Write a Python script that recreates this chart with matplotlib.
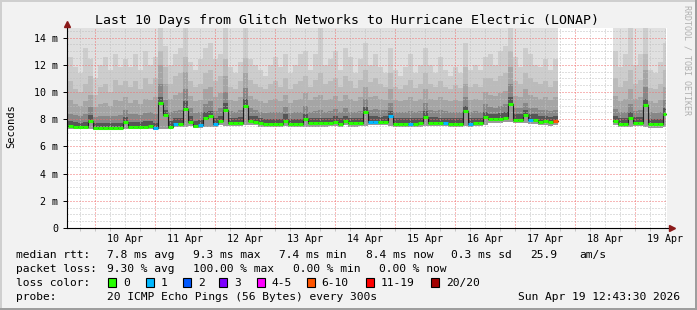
import numpy as np
import matplotlib
matplotlib.use('Agg')
import matplotlib.pyplot as plt
from matplotlib.patches import Rectangle

plt.rcParams['font.family'] = 'DejaVu Sans Mono'

nan = np.nan

# time in hours from Apr 10 00:00, 2 hour blocks starting at Apr 9 13:00
block_start = -11
block_len = 2
data_end = 228.3
x_range = (-11.2, 228.8)

day_labels = ['10 Apr', '11 Apr', '12 Apr', '13 Apr', '14 Apr',
              '15 Apr', '16 Apr', '17 Apr', '18 Apr', '19 Apr']

# median rtt per block (ms)
median = [7.52, 7.45, 7.43, 7.44, 7.85, 7.34, 7.34, 7.34, 7.34, 7.34, 7.34, 7.80,
          7.46, 7.46, 7.46, 7.46, 7.50, 7.36, 9.22, 8.27, 7.40, 7.68, 7.68, 8.76,
          7.80, 7.49, 7.55, 8.10, 8.20, 7.66, 7.85, 8.68, 7.73, 7.73, 7.73, 8.98,
          7.88, 7.82, 7.70, 7.66, 7.66, 7.66, 7.66, 7.90, 7.66, 7.66, 7.66, 8.00,
          7.70, 7.70, 7.70, 7.70, 7.75, 7.80, 7.68, 7.85, 7.70, 7.70, 7.72, 8.49,
          7.80, 7.80, 7.80, 7.80, 8.22, 7.68, 7.68, 7.68, 7.68, 7.68, 7.70, 8.17,
          7.75, 7.75, 7.75, 7.72, 7.68, 7.68, 7.68, 8.59, 7.66, 7.71, 7.71, 8.15,
          8.02, 8.02, 8.02, 8.10, 9.08, 7.95, 7.95, 8.27, 7.95, 7.95, 7.80, 7.85,
          7.76, 7.85] + [nan] * 10 + [
          nan, 7.85, 7.66, 7.66, 8.10, 7.75, 7.75, 9.03, 7.63, 7.63, 7.63, 8.39]

# smoke: lowest ping and upper ping ranks per block (ms)
ping_lo = [7.30, 7.28, 7.25, 7.27, 7.30, 7.20, 7.20, 7.20, 7.20, 7.20, 7.20, 7.25,
           7.28, 7.28, 7.28, 7.28, 7.30, 7.22, 7.30, 7.30, 7.25, 7.45, 7.45, 7.45,
           7.50, 7.32, 7.35, 7.45, 7.45, 7.45, 7.55, 7.50, 7.50, 7.50, 7.50, 7.55,
           7.60, 7.55, 7.45, 7.42, 7.42, 7.42, 7.42, 7.50, 7.42, 7.42, 7.42, 7.45,
           7.45, 7.45, 7.45, 7.45, 7.50, 7.50, 7.45, 7.55, 7.45, 7.45, 7.48, 7.50,
           7.55, 7.55, 7.55, 7.55, 7.50, 7.45, 7.45, 7.45, 7.45, 7.45, 7.45, 7.48,
           7.50, 7.50, 7.50, 7.48, 7.45, 7.45, 7.45, 7.48, 7.42, 7.48, 7.48, 7.55,
           7.75, 7.75, 7.75, 7.80, 7.80, 7.70, 7.70, 7.70, 7.68, 7.68, 7.55, 7.60,
           7.50, 7.60] + [nan] * 10 + [
           nan, 7.55, 7.40, 7.40, 7.45, 7.50, 7.50, 7.45, 7.38, 7.38, 7.38, 7.40]

ping_13 = [7.85, 7.80, 7.75, 7.80, 8.30, 7.70, 7.70, 7.75, 7.72, 7.70, 7.72, 8.15,
           7.80, 7.82, 7.80, 7.85, 7.90, 7.75, 9.60, 8.70, 7.85, 8.05, 8.05, 9.30,
           8.20, 7.85, 7.95, 8.50, 8.60, 8.05, 8.25, 9.20, 8.10, 8.10, 8.15, 9.50,
           8.25, 8.20, 8.05, 8.00, 8.00, 8.02, 8.00, 8.35, 8.00, 8.00, 8.02, 8.40,
           8.05, 8.05, 8.08, 8.05, 8.10, 8.20, 8.05, 8.25, 8.05, 8.05, 8.10, 8.90,
           8.20, 8.20, 8.18, 8.20, 8.60, 8.05, 8.05, 8.05, 8.05, 8.05, 8.10, 8.60,
           8.15, 8.15, 8.12, 8.10, 8.05, 8.05, 8.05, 9.00, 8.05, 8.10, 8.10, 8.55,
           8.40, 8.40, 8.42, 8.50, 9.60, 8.35, 8.35, 8.70, 8.35, 8.35, 8.20, 8.25,
           8.15, 8.25] + [nan] * 10 + [
           nan, 8.25, 8.05, 8.05, 8.50, 8.15, 8.15, 9.50, 8.00, 8.00, 8.00, 8.80]

ping_15 = [8.40, 8.30, 8.20, 8.35, 8.90, 8.15, 8.20, 8.25, 8.20, 8.25, 8.30, 8.70,
           8.35, 8.40, 8.30, 8.45, 8.50, 8.40, 10.60, 9.40, 8.50, 8.60, 8.70, 10.20,
           8.80, 8.45, 8.50, 9.10, 9.30, 8.60, 8.80, 10.00, 8.60, 8.55, 8.70, 10.30,
           8.80, 8.70, 8.50, 8.45, 8.50, 8.55, 8.50, 8.90, 8.45, 8.50, 8.55, 8.95,
           8.55, 8.60, 8.65, 8.55, 8.60, 8.75, 8.50, 8.80, 8.55, 8.50, 8.60, 9.50,
           8.70, 8.75, 8.70, 8.65, 9.20, 8.55, 8.50, 8.55, 8.60, 8.55, 8.60, 9.20,
           8.65, 8.60, 8.65, 8.60, 8.50, 8.55, 8.50, 9.60, 8.55, 8.60, 8.55, 9.10,
           8.90, 8.85, 8.95, 9.10, 10.60, 8.85, 8.80, 9.20, 8.85, 8.80, 8.65, 8.70,
           8.60, 8.70] + [nan] * 10 + [
           nan, 8.75, 8.50, 8.55, 9.10, 8.60, 8.65, 10.40, 8.50, 8.45, 8.50, 9.40]

ping_17 = [9.40, 9.10, 9.00, 9.30, 9.80, 8.90, 9.10, 9.20, 9.00, 9.40, 9.30, 9.60,
           9.20, 9.40, 9.10, 9.50, 9.40, 9.60, 12.00, 10.60, 9.50, 9.80, 9.90, 11.50,
           9.70, 9.30, 9.40, 10.20, 10.40, 9.60, 9.90, 11.20, 9.40, 9.30, 9.60, 11.40,
           9.70, 9.50, 9.30, 9.20, 9.40, 9.50, 9.30, 9.80, 9.20, 9.40, 9.50, 9.90,
           9.40, 9.60, 9.80, 9.40, 9.50, 9.70, 9.30, 9.80, 9.50, 9.30, 9.60, 10.40,
           9.60, 9.70, 9.50, 9.40, 10.20, 9.40, 9.30, 9.40, 9.60, 9.30, 9.50, 10.20,
           9.50, 9.40, 9.60, 9.40, 9.30, 9.40, 9.30, 10.60, 9.40, 9.50, 9.40, 10.00,
           9.80, 9.70, 9.90, 10.10, 11.80, 9.70, 9.60, 10.20, 9.80, 9.60, 9.50, 9.60,
           9.40, 9.60] + [nan] * 10 + [
           nan, 9.70, 9.30, 9.50, 10.20, 9.50, 9.60, 11.60, 9.30, 9.20, 9.40, 10.40]

ping_18 = [10.8, 10.2, 10.0, 10.6, 11.2, 9.8, 10.4, 10.6, 10.0, 10.9, 10.5, 10.8,
           10.4, 10.8, 10.2, 11.0, 10.6, 11.0, 13.0, 11.8, 10.6, 11.2, 11.4, 12.6,
           10.8, 10.4, 10.6, 11.4, 11.6, 10.8, 11.2, 12.4, 10.4, 10.2, 10.8, 12.5,
           10.9, 10.6, 10.4, 10.2, 10.6, 10.8, 10.4, 11.0, 10.2, 10.6, 10.8, 11.2,
           10.4, 10.9, 11.4, 10.6, 10.8, 11.0, 10.4, 11.2, 10.8, 10.3, 10.9, 11.6,
           10.7, 11.0, 10.6, 10.4, 11.4, 10.4, 10.2, 10.5, 10.9, 10.3, 10.6, 11.4,
           10.6, 10.4, 10.8, 10.4, 10.2, 10.5, 10.3, 11.8, 10.4, 10.6, 10.4, 11.0,
           11.0, 10.8, 11.2, 11.4, 13.0, 10.8, 10.6, 11.4, 11.0, 10.7, 10.6, 10.8,
           10.4, 10.8] + [nan] * 10 + [
           nan, 11.0, 10.4, 10.8, 11.6, 10.6, 10.9, 12.8, 10.3, 10.2, 10.6, 11.6]

ping_19 = [12.6, 11.8, 11.4, 13.2, 12.4, 11.0, 12.0, 12.6, 11.6, 12.8, 11.8, 12.4,
           11.8, 12.8, 11.6, 13.0, 12.0, 12.6, 14.7, 13.4, 12.0, 12.8, 13.2, 14.7,
           12.2, 11.6, 12.4, 13.2, 13.6, 12.4, 12.8, 14.7, 11.8, 11.4, 12.2, 14.7,
           12.4, 12.0, 11.6, 11.2, 12.0, 12.6, 11.8, 12.8, 11.4, 12.0, 12.8, 13.0,
           11.6, 12.8, 14.7, 12.0, 12.4, 13.0, 11.6, 13.2, 12.6, 11.4, 12.4, 13.6,
           12.0, 12.8, 11.8, 11.4, 13.2, 11.6, 11.2, 11.8, 12.8, 11.4, 12.0, 13.2,
           12.0, 11.4, 12.6, 11.6, 11.2, 11.8, 11.4, 13.6, 11.6, 12.0, 11.6, 12.6,
           12.8, 12.0, 13.0, 13.4, 14.7, 12.6, 11.8, 13.2, 12.8, 12.0, 11.8, 12.4,
           11.6, 12.4] + [nan] * 10 + [
           nan, 13.0, 11.8, 12.8, 14.7, 12.0, 12.8, 14.7, 11.6, 11.4, 12.2, 13.6]

# blocks where the median had loss (index into blocks, loss class)
loss_block = [17, 21, 26, 29, 60, 61, 64, 68, 75, 80, 92, 97]
loss_class = [1, 1, 1, 1, 1, 1, 1, 1, 1, 1, 1, 5]

loss_labels = ['0', '1', '2', '3', '4-5', '6-10', '11-19', '20/20']
loss_colors = ['#26ff00', '#00b8ff', '#0059ff', '#7e00ff',
               '#ff00ff', '#ff5500', '#ff0000', '#a10000']

title = 'Last 10 Days from Glitch Networks to Hurricane Electric (LONAP)'
rtt_line = [('median rtt:', 16), ('7.8 ms avg', 107.3), ('9.3 ms max', 193.3),
            ('7.4 ms min', 279.3), ('8.4 ms now', 365.7), ('0.3 ms sd', 451),
            ('25.9', 530), ('am/s', 579.3)]
loss_line = [('packet loss:', 16), ('9.30 % avg', 107.3), ('100.00 % max', 193.3),
             ('0.00 % min', 292.7), ('0.00 % now', 379.3)]
probe_text = '20 ICMP Echo Pings (56 Bytes) every 300s'
stamp = 'Sun Apr 19 12:43:30 2026'

# ---------------------------------------------------------------
n = len(median)
edges = np.append(block_start + block_len * np.arange(n), data_end)
left = edges[:-1]
widths = np.diff(edges)
median = np.array(median)
lo = np.array(ping_lo)

fig = plt.figure(figsize=(6.97, 3.10), dpi=100)
fig.patch.set_facecolor('#f2f2f2')
W, H = 697, 310
ax = fig.add_axes([67 / W, (H - 228) / H, 600 / W, 200 / H])
ax.set_facecolor('white')
ax.set_xlim(*x_range)
ax.set_ylim(0, 14.7)

# smoke, outer bands first
ytop = 16.0
bands = [(np.full(n, ytop), '#e0e0e0'), (ping_19, '#cdcdcd'), (ping_18, '#bbbbbb'),
         (ping_17, '#a5a5a5'), (ping_15, '#878787'), (ping_13, '#555555'),
         (median, '#9a9a9a')]
for upper, col in bands:
    upper = np.array(upper)
    ax.bar(left, upper - lo, bottom=lo, width=widths, align='edge',
           color=col, linewidth=0, antialiased=False, zorder=1)

# grid (dotted, drawn over the smoke)
days = 24 * np.arange(10)
sixh = [h for h in np.arange(-6, 229, 6) if h % 24 != 0]
halfms = [v for v in np.arange(0.5, 14.7, 0.5) if v % 2 != 0]
grid_ls = (0, (1, 2))
for h in sixh:
    ax.axvline(h, color='#c0c0c0', ls=grid_ls, lw=0.72, zorder=2)
for v in halfms:
    ax.axhline(v, color='#c0c0c0', ls=grid_ls, lw=0.72, zorder=2)
for h in days:
    ax.axvline(h, color='#f07070', ls=grid_ls, lw=0.72, zorder=2)
for v in range(2, 15, 2):
    ax.axhline(v, color='#f07070', ls=grid_ls, lw=0.72, zorder=2)

# median line: dark connector + loss coloured segments
ax.step(edges, np.append(median, median[-1]), where='post', color='#202020',
        lw=0.8, zorder=4)
seg_colors = [loss_colors[0]] * n
for b, c in zip(loss_block, loss_class):
    seg_colors[b] = loss_colors[c]
ax.hlines(median, edges[:-1], edges[1:], colors=seg_colors, lw=2.2, zorder=5)

# axes
for s in ax.spines.values():
    s.set_visible(False)
ax.plot([0, 0], [0, 1.02], transform=ax.transAxes, color='black', lw=0.8,
        clip_on=False, zorder=6)
ax.plot([0, 1.006], [0, 0], transform=ax.transAxes, color='black', lw=0.8,
        clip_on=False, zorder=6)
ax.plot([0], [1.02], marker='^', ms=4, color='#8b1a1a', transform=ax.transAxes,
        clip_on=False, zorder=7)
ax.plot([1.008], [0], marker='>', ms=4, color='#8b1a1a', transform=ax.transAxes,
        clip_on=False, zorder=7)

ax.set_yticks(np.arange(0, 15, 2))
ax.set_yticklabels(['0'] + ['%d m' % v for v in range(2, 15, 2)])
ax.tick_params(axis='y', length=3, width=0.7, pad=3.5, labelsize=7.2)
ax.set_xticks(12 + 24 * np.arange(10))
ax.set_xticklabels(day_labels)
ax.tick_params(axis='x', which='major', length=0, pad=4, labelsize=7.2)
ax.set_xticks(np.arange(-6, 229, 6), minor=True)
ax.tick_params(axis='x', which='minor', length=2, width=0.7, color='#c4c4c4')
for tk, pos in zip(ax.xaxis.get_minor_ticks(), np.arange(-6, 229, 6)):
    if pos % 24 == 0:
        tk.tick1line.set_color('#f08080')

# overlay in pixel coordinates for text and frame
ov = fig.add_axes([0, 0, 1, 1])
ov.set_xlim(0, W)
ov.set_ylim(H, 0)
ov.axis('off')
ov.add_patch(Rectangle((0, 0), W, 2, color='#cfcfcf', lw=0))
ov.add_patch(Rectangle((0, 0), 2, H, color='#cfcfcf', lw=0))
ov.add_patch(Rectangle((0, H - 2), W, 2, color='#9e9e9e', lw=0))
ov.add_patch(Rectangle((W - 2, 0), 2, H, color='#9e9e9e', lw=0))

ov.text(347.4, 24, title, ha='center', va='baseline', fontsize=9.5)
ov.text(11, 126, 'Seconds', rotation=90, ha='center', va='center', fontsize=7.5)
ov.text(687.5, 60, 'RRDTOOL / TOBI OETIKER', rotation=270, ha='center',
        va='center', fontsize=6, color='#b0b0b0')

fs = 8.1
for s, x in rtt_line:
    ov.text(x, 258, s, va='baseline', fontsize=fs)
for s, x in loss_line:
    ov.text(x, 272, s, va='baseline', fontsize=fs)
ov.text(16, 286, 'loss color:', va='baseline', fontsize=fs)
box_x = [108.3, 145.7, 182.7, 219.3, 256.7, 306.7, 365.7, 430.7]
for lab, col, bx in zip(loss_labels, loss_colors, box_x):
    ov.add_patch(Rectangle((bx, 278), 8, 8.5, facecolor=col, edgecolor='black', lw=0.8))
    ov.text(bx + 15, 286, lab, va='baseline', fontsize=fs)
ov.text(16, 300, 'probe:', va='baseline', fontsize=fs)
ov.text(107.3, 300, probe_text, va='baseline', fontsize=fs)
ov.text(680, 300, stamp, ha='right', va='baseline', fontsize=fs)

fig.savefig('out.png', dpi=100, facecolor=fig.get_facecolor())
